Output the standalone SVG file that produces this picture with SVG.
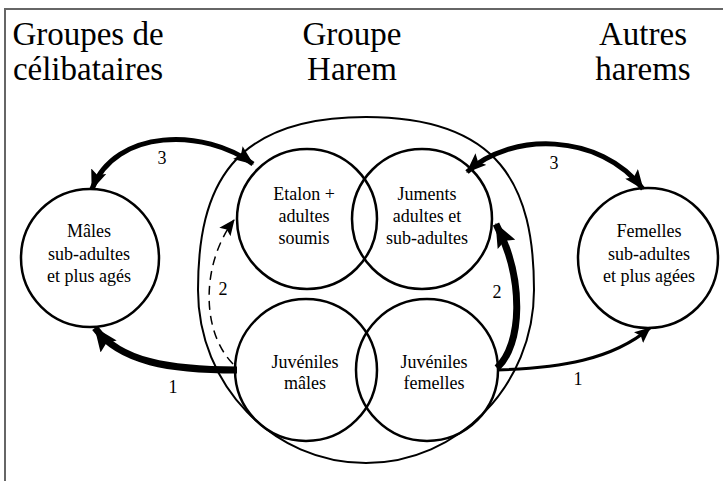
<svg xmlns="http://www.w3.org/2000/svg" width="723" height="481" viewBox="0 0 723 481">
<style>
.t{font-family:"Liberation Serif","Times New Roman",serif;fill:#000;text-anchor:middle}
.title{font-size:33px}
.lbl{font-size:18px}
.num{font-size:18px}
.c{fill:none;stroke:#000;stroke-width:2.5}
.big{fill:none;stroke:#000;stroke-width:2}
.a{fill:none;stroke:#000}
</style>
<defs>
<marker id="h" viewBox="0 0 20 16" refX="19" refY="8" markerWidth="20" markerHeight="16" markerUnits="userSpaceOnUse" orient="auto-start-reverse">
<path d="M0,0 L20,8 L0,16 L4,8 z" fill="#000"/>
</marker>
<marker id="hb" viewBox="0 0 24 20" refX="23" refY="10" markerWidth="24" markerHeight="20" markerUnits="userSpaceOnUse" orient="auto">
<path d="M0,0 L24,10 L0,20 L4,10 z" fill="#000"/>
</marker>
<marker id="hs" viewBox="0 0 16 14" refX="15" refY="7" markerWidth="16" markerHeight="14" markerUnits="userSpaceOnUse" orient="auto">
<path d="M0,0 L16,7 L0,14 L3,7 z" fill="#000"/>
</marker>
</defs>
<path d="M5,481 L5,9 L723,9" fill="none" stroke="#666" stroke-width="2"/>
<g id="titles">
<text class="t title" x="88" y="45">Groupes de</text>
<text class="t title" x="88" y="80">célibataires</text>
<text class="t title" x="352" y="45">Groupe</text>
<text class="t title" x="352" y="80">Harem</text>
<text class="t title" x="643" y="45">Autres</text>
<text class="t title" x="643" y="80">harems</text>
</g>
<g id="harem">
<path class="big" d="M366,117 C500,117 534,186 534,290 C534,385 458,463 366,463 C273,463 198,385 198,290 C198,186 232,117 366,117 Z"/>
</g>
<g id="males">
<circle class="c" cx="90" cy="258" r="69"/>
<text class="t lbl" x="89" y="237">Mâles</text>
<text class="t lbl" x="89" y="260">sub-adultes</text>
<text class="t lbl" x="89" y="282">et plus agés</text>
</g>
<g id="femelles">
<circle class="c" cx="648" cy="258" r="70"/>
<text class="t lbl" x="649" y="237">Femelles</text>
<text class="t lbl" x="649" y="260">sub-adultes</text>
<text class="t lbl" x="649" y="282">et plus agées</text>
</g>
<g id="etalon">
<circle class="c" cx="307" cy="219" r="70"/>
<text class="t lbl" x="304" y="200">Etalon +</text>
<text class="t lbl" x="304" y="222">adultes</text>
<text class="t lbl" x="304" y="244">soumis</text>
</g>
<g id="juments">
<circle class="c" cx="422" cy="219" r="70"/>
<text class="t lbl" x="427" y="200">Juments</text>
<text class="t lbl" x="427" y="222">adultes et</text>
<text class="t lbl" x="427" y="244">sub-adultes</text>
</g>
<g id="juv-males">
<circle class="c" cx="306" cy="370" r="71"/>
<text class="t lbl" x="305" y="368">Juvéniles</text>
<text class="t lbl" x="305" y="389">mâles</text>
</g>
<g id="juv-femelles">
<circle class="c" cx="427" cy="370" r="71"/>
<text class="t lbl" x="434" y="368">Juvéniles</text>
<text class="t lbl" x="434" y="389">femelles</text>
</g>
<g id="connectors">
<path class="a" stroke-width="5" d="M253,164 C205,128 115,128 92,189" marker-start="url(#h)" marker-end="url(#h)"/>
<path class="a" stroke-width="5" d="M467,172 C510,132 600,132 643,189" marker-start="url(#h)" marker-end="url(#h)"/>
<path class="a" stroke-width="7" d="M237,370 C170,370 120,362 95,328" marker-end="url(#hb)"/>
<path class="a" stroke-width="3" d="M497,370 C560,368 612,360 650,328" marker-end="url(#hs)"/>
<path class="a" stroke-width="1.5" stroke-dasharray="9,6" d="M233,364 C200,330 202,262 234,220" marker-end="url(#hs)"/>
<path class="a" stroke-width="7" d="M497,368 C522,345 525,280 496,224" marker-end="url(#hb)"/>
<text class="t num" x="162" y="164">3</text>
<text class="t num" x="554" y="169">3</text>
<text class="t num" x="173" y="393">1</text>
<text class="t num" x="578" y="385">1</text>
<text class="t num" x="223" y="295">2</text>
<text class="t num" x="497" y="298">2</text>
</g>
</svg>
